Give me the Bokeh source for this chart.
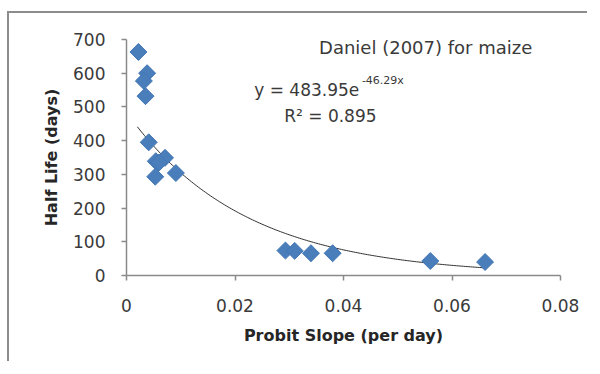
import numpy as np
from bokeh.plotting import figure
from bokeh.models import FixedTicker, Label
from bokeh.embed import file_html
from bokeh.resources import INLINE

# ---- data ----
probit_slope = [0.0022, 0.0038, 0.0032, 0.0035, 0.0041, 0.0054, 0.0071, 0.0060,
                0.0053, 0.0091, 0.0293, 0.0310, 0.0340, 0.0380, 0.0560, 0.0661]
half_life = [663, 600, 577, 532, 395, 339, 349, 335,
             293, 304, 74, 73, 66, 66, 43, 40]

# exponential trendline shown in the chart: y = 483.95 e^(-46.29 x)
trend_a = 483.95
trend_k = -46.29
trend_x_start = 0.002
trend_x_end = 0.066

x_ticks = [0, 0.02, 0.04, 0.06, 0.08]
x_tick_labels = ["0", "0.02", "0.04", "0.06", "0.08"]
y_ticks = [0, 100, 200, 300, 400, 500, 600, 700]

FONT = "DejaVu Sans"
AXIS_GREY = "#8a8a8a"
TEXT = "#3a3a3a"

p = figure(width=580, height=350, output_backend="svg", toolbar_location=None,
           x_range=(0, 0.08), y_range=(0, 700),
           min_border_left=117, min_border_right=29,
           min_border_top=26, min_border_bottom=88)
p.styles = {"border-top": "2px solid #8c8c8c", "border-left": "2px solid #8c8c8c",
            "margin-top": "11px", "margin-left": "7px"}
p.outline_line_color = None
p.background_fill_color = "white"
p.border_fill_color = "white"
p.xgrid.visible = False
p.ygrid.visible = False

# trendline
tx = np.linspace(trend_x_start, trend_x_end, 200)
ty = trend_a * np.exp(trend_k * tx)
p.line(tx, ty, line_color="#303030", line_width=1)

# diamond markers
p.scatter(probit_slope, half_life, marker="square", angle=np.pi / 4, size=12,
          fill_color="#4a7ebb", line_color="#4276b4", line_width=1)

# axes
p.xaxis.ticker = FixedTicker(ticks=x_ticks)
p.xaxis.major_label_overrides = {t: l for t, l in zip(x_ticks, x_tick_labels)}
p.yaxis.ticker = FixedTicker(ticks=y_ticks)
for ax in (p.xaxis[0], p.yaxis[0]):
    ax.axis_line_color = AXIS_GREY
    ax.axis_line_width = 1.5
    ax.major_tick_line_color = AXIS_GREY
    ax.major_tick_line_width = 1.5
    ax.major_tick_out = 5
    ax.major_tick_in = 0
    ax.minor_tick_line_color = None
    ax.major_label_text_font = FONT
    ax.major_label_text_font_size = "17px"
    ax.major_label_text_color = TEXT
    ax.axis_label_text_font = FONT
    ax.axis_label_text_font_size = "16px"
    ax.axis_label_text_font_style = "bold"
    ax.axis_label_text_color = "#262626"

p.xaxis.axis_label = "Probit Slope (per day)"
p.yaxis.axis_label = "Half Life (days)"
p.xaxis.major_label_standoff = 18
p.yaxis.major_label_standoff = 16
p.xaxis.axis_label_standoff = 11
p.yaxis.axis_label_standoff = 9

# annotations
p.add_layout(Label(x=0.05515, y=676, text="Daniel (2007) for maize",
                   text_font=FONT, text_font_size="18px", text_color=TEXT,
                   text_align="center", text_baseline="middle"))
p.add_layout(Label(x=0.02354, y=551, text="y = 483.95e",
                   text_font=FONT, text_font_size="17px", text_color=TEXT,
                   text_align="left", text_baseline="alphabetic"))
p.add_layout(Label(x=0.04339, y=578, text="-46.29x",
                   text_font=FONT, text_font_size="11px", text_color=TEXT,
                   text_align="left", text_baseline="alphabetic"))
p.add_layout(Label(x=0.02907, y=472, text="R² = 0.895",
                   text_font=FONT, text_font_size="17px", text_color=TEXT,
                   text_align="left", text_baseline="alphabetic"))

open("out.html", "w").write(file_html(p, INLINE))
